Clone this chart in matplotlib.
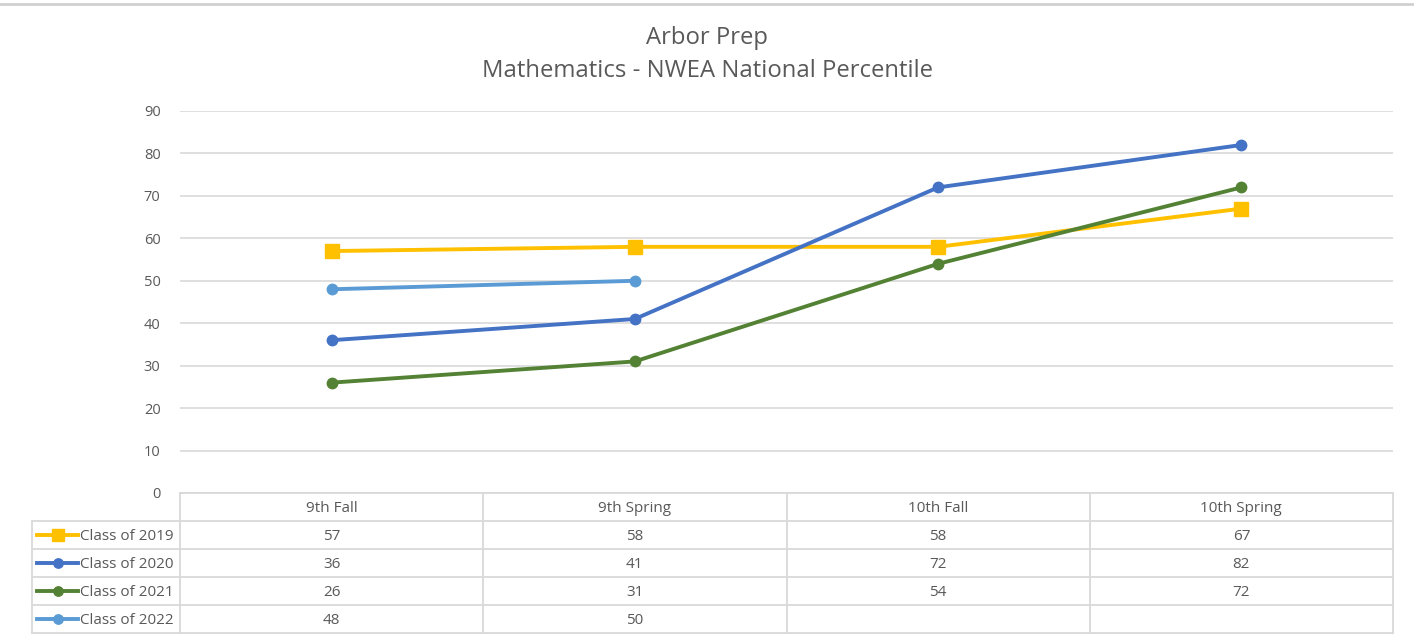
import matplotlib
matplotlib.use("Agg")
import matplotlib.pyplot as plt
import numpy as np

categories = ["9th Fall", "9th Spring", "10th Fall", "10th Spring"]
series_names = ["Class of 2019", "Class of 2020", "Class of 2021", "Class of 2022"]
class_2019 = [57, 58, 58, 67]
class_2020 = [36, 41, 72, 82]
class_2021 = [26, 31, 54, 72]
class_2022 = [48, 50, None, None]
yticks = [0, 10, 20, 30, 40, 50, 60, 70, 80, 90]

series = [class_2019, class_2020, class_2021, class_2022]
colors = ["#FFC000", "#4472C4", "#548235", "#5B9BD5"]
markers = ["s", "o", "o", "o"]
msizes = [10, 7.5, 7.5, 7.5]

plt.rcParams['font.family'] = ['Open Sans', 'DejaVu Sans']
TXT = "#595959"
GRID = "#D9D9D9"

W, H = 1414, 641
fig = plt.figure(figsize=(W / 100, H / 100), dpi=100)
fig.patch.set_facecolor("white")

def fx(px):
    return px / W

def fy(py):
    return 1 - py / H

# plot area
L, R, T, B = 180, 1393, 111, 493
ax = fig.add_axes([fx(L), fy(B), fx(R - L), fy(T) - fy(B)])
ax.set_xlim(-0.5, len(categories) - 0.5)
ax.set_ylim(0, 90)
ax.set_yticks(yticks)
ax.set_yticklabels([str(v) for v in yticks], fontsize=10.5, color=TXT)
ax.tick_params(axis="y", length=0, pad=14)
ax.set_xticks([])
for s in ax.spines.values():
    s.set_visible(False)
ax.grid(axis="y", color=GRID, linewidth=1.2)
ax.set_axisbelow(True)

x = np.arange(len(categories))
for vals, c, m, ms in zip(series, colors, markers, msizes):
    y = np.array([np.nan if v is None else v for v in vals], dtype=float)
    ax.plot(x, y, color=c, linewidth=2.8, marker=m, markersize=ms,
            markerfacecolor=c, markeredgecolor=c, zorder=3)

# title
fig.text(0.5, fy(38), "Arbor Prep", ha="center", va="center", fontsize=17.2, color=TXT)
fig.text(0.5, fy(71), "Mathematics - NWEA National Percentile", ha="center", va="center",
         fontsize=17.2, color=TXT)

# data table in pixel coordinates
tax = fig.add_axes([0, 0, 1, 1])
tax.set_xlim(0, W)
tax.set_ylim(H, 0)
tax.axis("off")
tax.patch.set_alpha(0)

TL = 32
row_h = 28
header_top = B
rows_top = B + row_h
nrows = len(series)
bottom = rows_top + nrows * row_h
col_w = (R - L) / len(categories)
lc = "#D9D9D9"
lw = 1.3

tax.plot([L, R], [header_top, header_top], color=lc, lw=lw)
for i in range(len(categories) + 1):
    xx = L + i * col_w
    tax.plot([xx, xx], [header_top, bottom], color=lc, lw=lw)
tax.plot([TL, TL], [rows_top, bottom], color=lc, lw=lw)
for r in range(nrows + 1):
    yy = rows_top + r * row_h
    tax.plot([TL, R], [yy, yy], color=lc, lw=lw)

FS = 11
for i, cat in enumerate(categories):
    tax.text(L + (i + 0.5) * col_w, header_top + row_h / 2 + 1, cat, ha="center", va="center",
             fontsize=FS, color=TXT)

for r, (name, vals, c, m, ms) in enumerate(zip(series_names, series, colors, markers, msizes)):
    yc = rows_top + (r + 0.5) * row_h
    tax.plot([37, 78], [yc, yc], color=c, lw=2.8)
    tax.plot([57.5], [yc], marker=m, markersize=ms * 0.9, color=c)
    tax.text(80, yc + 1, name, ha="left", va="center", fontsize=FS, color=TXT)
    for i, v in enumerate(vals):
        if v is not None:
            tax.text(L + (i + 0.5) * col_w, yc + 1, str(v), ha="center", va="center",
                     fontsize=FS, color=TXT)

tax.plot([0, W], [4, 4], color="#D0D0D0", lw=2)

fig.savefig("out.png", dpi=100)
